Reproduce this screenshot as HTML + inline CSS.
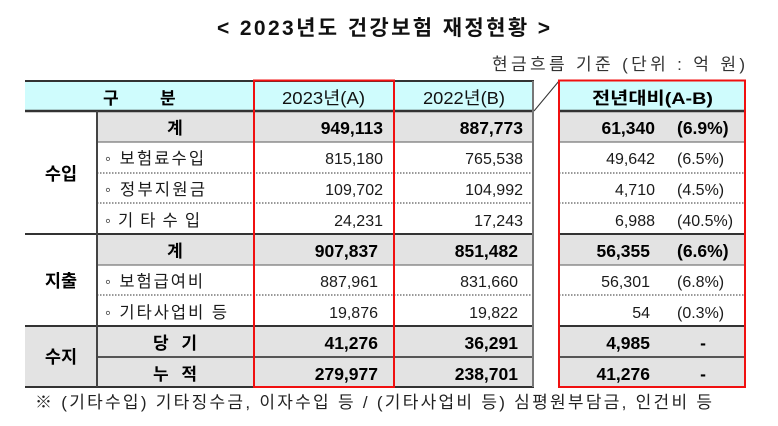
<!DOCTYPE html>
<html><head><meta charset="utf-8">
<style>
html,body{margin:0;padding:0;background:#fff;}
svg{display:block;}
text{font-family:"Liberation Sans","Noto Sans CJK KR",sans-serif;}
.b{font-weight:bold;fill:#000;}
.r{fill:#1a1a1a;}
</style></head>
<body>
<svg width="778" height="426" viewBox="0 0 778 426" xmlns="http://www.w3.org/2000/svg">
<!-- title -->
<text x="217" y="35" font-size="21" font-weight="bold" fill="#111" textLength="333" lengthAdjust="spacing">&lt; 2023년도 건강보험 재정현황 &gt;</text>
<text x="492" y="70" font-size="17" fill="#333" textLength="253" lengthAdjust="spacing">현금흐름 기준 (단위 : 억 원)</text>

<!-- backgrounds left -->
<rect x="25" y="81" width="509" height="30" fill="#cffcfd"/>
<rect x="97" y="111" width="437" height="31" fill="#e3e3e3"/>
<rect x="97" y="234" width="437" height="31" fill="#e3e3e3"/>
<rect x="25" y="326" width="509" height="61" fill="#e3e3e3"/>
<!-- backgrounds right -->
<rect x="559" y="81" width="186" height="30" fill="#cffcfd"/>
<rect x="559" y="111" width="186" height="31" fill="#e3e3e3"/>
<rect x="559" y="234" width="186" height="31" fill="#e3e3e3"/>
<rect x="559" y="326" width="186" height="61" fill="#e3e3e3"/>

<!-- lines left -->
<line x1="25" y1="81" x2="534" y2="81" stroke="#333" stroke-width="2"/>
<line x1="25" y1="111" x2="534" y2="111" stroke="#333" stroke-width="2.5"/>
<line x1="97" y1="142" x2="534" y2="142" stroke="#777" stroke-width="1.2"/>
<line x1="97" y1="173" x2="534" y2="173" stroke="#333" stroke-width="1" stroke-dasharray="1.5,1.5"/>
<line x1="97" y1="203" x2="534" y2="203" stroke="#333" stroke-width="1" stroke-dasharray="1.5,1.5"/>
<line x1="25" y1="234" x2="534" y2="234" stroke="#333" stroke-width="2"/>
<line x1="97" y1="265" x2="534" y2="265" stroke="#777" stroke-width="1.2"/>
<line x1="97" y1="295" x2="534" y2="295" stroke="#333" stroke-width="1" stroke-dasharray="1.5,1.5"/>
<line x1="25" y1="326" x2="534" y2="326" stroke="#333" stroke-width="2"/>
<line x1="97" y1="357" x2="534" y2="357" stroke="#555" stroke-width="2"/>
<line x1="25" y1="387" x2="534" y2="387" stroke="#333" stroke-width="2"/>
<line x1="97" y1="111" x2="97" y2="387" stroke="#444" stroke-width="2"/>
<line x1="533" y1="81" x2="533" y2="387" stroke="#777" stroke-width="2"/>
<line x1="394" y1="81" x2="394" y2="387" stroke="#777" stroke-width="1.5"/>
<!-- lines right -->
<line x1="559" y1="111" x2="745" y2="111" stroke="#333" stroke-width="2.5"/>
<line x1="559" y1="142" x2="745" y2="142" stroke="#777" stroke-width="1.2"/>
<line x1="559" y1="173" x2="745" y2="173" stroke="#333" stroke-width="1" stroke-dasharray="1.5,1.5"/>
<line x1="559" y1="203" x2="745" y2="203" stroke="#333" stroke-width="1" stroke-dasharray="1.5,1.5"/>
<line x1="559" y1="234" x2="745" y2="234" stroke="#333" stroke-width="2"/>
<line x1="559" y1="265" x2="745" y2="265" stroke="#777" stroke-width="1.2"/>
<line x1="559" y1="295" x2="745" y2="295" stroke="#333" stroke-width="1" stroke-dasharray="1.5,1.5"/>
<line x1="559" y1="326" x2="745" y2="326" stroke="#333" stroke-width="2"/>
<line x1="559" y1="357" x2="745" y2="357" stroke="#555" stroke-width="2"/>
<!-- diagonal -->
<line x1="534" y1="111" x2="559" y2="81" stroke="#333" stroke-width="1"/>
<!-- red boxes -->
<rect x="254" y="80.5" width="140" height="306.5" fill="none" stroke="#f01010" stroke-width="2"/>
<rect x="559" y="80.5" width="186" height="306.5" fill="none" stroke="#f01010" stroke-width="2"/>

<!-- header text -->
<text x="103" y="104" font-size="17" class="b">구</text>
<text x="160" y="104" font-size="17" class="b">분</text>
<text x="282" y="104" font-size="17.5" fill="#111" textLength="83" lengthAdjust="spacingAndGlyphs">2023년(A)</text>
<text x="423" y="104" font-size="17.5" fill="#111" textLength="82" lengthAdjust="spacingAndGlyphs">2022년(B)</text>
<text x="592" y="104" font-size="17" class="b" textLength="121" lengthAdjust="spacingAndGlyphs">전년대비(A-B)</text>

<!-- category -->
<text x="61" y="180" font-size="17.5" class="b" text-anchor="middle">수입</text>
<text x="61" y="287" font-size="17.5" class="b" text-anchor="middle">지출</text>
<text x="61" y="363" font-size="17.5" class="b" text-anchor="middle">수지</text>

<!-- items -->
<text x="175" y="134" font-size="17" class="b" text-anchor="middle">계</text>
<text x="105" y="164" font-size="16.5" class="r" textLength="99" lengthAdjust="spacing">◦ 보험료수입</text>
<text x="105" y="195" font-size="16.5" class="r" textLength="100" lengthAdjust="spacing">◦ 정부지원금</text>
<text x="105" y="226" font-size="16.5" class="r" textLength="95" lengthAdjust="spacing">◦ 기 타 수 입</text>
<text x="175" y="257" font-size="17" class="b" text-anchor="middle">계</text>
<text x="105" y="287" font-size="16.5" class="r" textLength="98" lengthAdjust="spacing">◦ 보험급여비</text>
<text x="105" y="318" font-size="16.5" class="r" textLength="122" lengthAdjust="spacing">◦ 기타사업비 등</text>
<text x="153" y="349" font-size="17" class="b" textLength="44" lengthAdjust="spacing">당 기</text>
<text x="153" y="380" font-size="17" class="b" textLength="44" lengthAdjust="spacing">누 적</text>

<!-- 2023 -->
<g text-anchor="end">
<text x="383" y="134" font-size="17.5" class="b">949,113</text>
<text x="383" y="164" font-size="16" class="r">815,180</text>
<text x="383" y="195" font-size="16" class="r">109,702</text>
<text x="383" y="226" font-size="16" class="r">24,231</text>
<text x="378" y="257" font-size="17.5" class="b">907,837</text>
<text x="378" y="287" font-size="16" class="r">887,961</text>
<text x="378" y="318" font-size="16" class="r">19,876</text>
<text x="378" y="349" font-size="17.5" class="b">41,276</text>
<text x="378" y="380" font-size="17.5" class="b">279,977</text>
<!-- 2022 -->
<text x="523" y="134" font-size="17.5" class="b">887,773</text>
<text x="523" y="164" font-size="16" class="r">765,538</text>
<text x="523" y="195" font-size="16" class="r">104,992</text>
<text x="523" y="226" font-size="16" class="r">17,243</text>
<text x="518" y="257" font-size="17.5" class="b">851,482</text>
<text x="518" y="287" font-size="16" class="r">831,660</text>
<text x="518" y="318" font-size="16" class="r">19,822</text>
<text x="518" y="349" font-size="17.5" class="b">36,291</text>
<text x="518" y="380" font-size="17.5" class="b">238,701</text>
<!-- diff -->
<text x="655" y="134" font-size="17.5" class="b">61,340</text>
<text x="655" y="164" font-size="16" class="r">49,642</text>
<text x="655" y="195" font-size="16" class="r">4,710</text>
<text x="655" y="226" font-size="16" class="r">6,988</text>
<text x="650" y="257" font-size="17.5" class="b">56,355</text>
<text x="650" y="287" font-size="16" class="r">56,301</text>
<text x="650" y="318" font-size="16" class="r">54</text>
<text x="650" y="349" font-size="17.5" class="b">4,985</text>
<text x="650" y="380" font-size="17.5" class="b">41,276</text>
</g>
<g>
<text x="677" y="134" font-size="17.5" class="b">(6.9%)</text>
<text x="677" y="164" font-size="16" class="r">(6.5%)</text>
<text x="677" y="195" font-size="16" class="r">(4.5%)</text>
<text x="677" y="226" font-size="16" class="r">(40.5%)</text>
<text x="677" y="257" font-size="17.5" class="b">(6.6%)</text>
<text x="677" y="287" font-size="16" class="r">(6.8%)</text>
<text x="677" y="318" font-size="16" class="r">(0.3%)</text>
<text x="703" y="349" font-size="17.5" class="b" text-anchor="middle">-</text>
<text x="703" y="380" font-size="17.5" class="b" text-anchor="middle">-</text>
</g>

<!-- footnote -->
<text x="35" y="408" font-size="17" fill="#222" textLength="677" lengthAdjust="spacing">※ (기타수입) 기타징수금, 이자수입 등 / (기타사업비 등) 심평원부담금, 인건비 등</text>
</svg>
</body></html>
